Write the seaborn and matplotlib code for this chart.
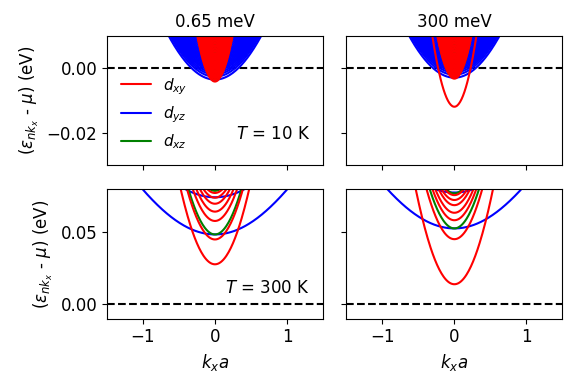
import numpy as np
import pandas as pd
import matplotlib.pyplot as plt
import seaborn as sns
from matplotlib.lines import Line2D

sns.set_style("ticks", {"text.color": "black", "axes.labelcolor": "black",
                        "xtick.color": "black", "ytick.color": "black",
                        "axes.edgecolor": "black"})
plt.rcParams["font.size"] = 12

# hopping (eV): light along x for dxy/dxz, heavy for dyz
t_light = 0.236
t_heavy = 0.034

# subband minima (eV)
tl_xy = [-0.0042, -0.0036, -0.0031, -0.0027, -0.0023, -0.0019, -0.0015, -0.0011,
         -0.0007, -0.0003, 0.0001, 0.0005, 0.0009, 0.0013, 0.0017, 0.0021, 0.0025,
         0.0029, 0.0033, 0.0037, 0.0041, 0.0045, 0.0050, 0.0055, 0.0060, 0.0065,
         0.0070, 0.0075, 0.0080, 0.0085, 0.0090, 0.0095]
tl_yz = [-0.0036, -0.0027, -0.0020, -0.0014, -0.0008, -0.0003, 0.0002, 0.0007,
         0.0012, 0.0017, 0.0022, 0.0027, 0.0032, 0.0037, 0.0042, 0.0047, 0.0053,
         0.0059, 0.0065, 0.0071, 0.0077, 0.0083, 0.0089, 0.0095]
tl_xz = tl_yz

tr_xy = [-0.0120, -0.0033, -0.0028, -0.0024, -0.0020, -0.0016, -0.0012, -0.0008,
         -0.0004, 0.0000, 0.0004, 0.0008, 0.0012, 0.0016, 0.0020, 0.0024, 0.0028,
         0.0032, 0.0036, 0.0040, 0.0045, 0.0050, 0.0055, 0.0060, 0.0065, 0.0070,
         0.0075, 0.0080, 0.0085, 0.0090, 0.0095]
tr_yz = [-0.0030, -0.0021, -0.0014, -0.0008, -0.0003, 0.0002, 0.0007, 0.0012,
         0.0017, 0.0022, 0.0027, 0.0032, 0.0037, 0.0042, 0.0047, 0.0053, 0.0059,
         0.0065, 0.0071, 0.0077, 0.0083, 0.0089, 0.0095]
tr_xz = tr_yz

bl_xy = [0.0278, 0.0451, 0.0580, 0.0645, 0.0700, 0.0742, 0.0775]
bl_yz = [0.0486, 0.0745]
bl_xz = [0.0486, 0.0790]

br_xy = [0.0139, 0.0453, 0.0585, 0.0637, 0.0690, 0.0726, 0.0760]
br_yz = [0.0528, 0.0778]
br_xz = [0.0528, 0.0772]

titles = ["0.65 meV", "300 meV"]
temps = ["$T$ = 10 K", "$T$ = 300 K"]

k = np.linspace(-1.5, 1.5, 301)
labels = {"xy": "$d_{xy}$", "yz": "$d_{yz}$", "xz": "$d_{xz}$"}
colors = {labels["xy"]: "red", labels["yz"]: "blue", labels["xz"]: "green"}


def band_frame(xy, yz, xz):
    parts = []
    for orb, mins, t in [("yz", yz, t_heavy), ("xz", xz, t_light), ("xy", xy, t_light)]:
        for n, e0 in enumerate(mins):
            parts.append(pd.DataFrame({"k": k, "E": e0 + 2 * t * (1 - np.cos(k)),
                                       "orbital": labels[orb], "band": orb + str(n)}))
    return pd.concat(parts, ignore_index=True)


panels = [[(tl_xy, tl_yz, tl_xz), (tr_xy, tr_yz, tr_xz)],
          [(bl_xy, bl_yz, bl_xz), (br_xy, br_yz, br_xz)]]

fig, axes = plt.subplots(2, 2, figsize=(5.81, 3.88), dpi=100, sharex=True, sharey="row")
fig.subplots_adjust(left=0.184, right=0.968, top=0.908, bottom=0.179, hspace=0.19, wspace=0.108)

for i in range(2):
    for j in range(2):
        ax = axes[i, j]
        ax.axhline(0, color="black", ls="--", lw=1.5, zorder=1)
        df = band_frame(*panels[i][j])
        sns.lineplot(data=df, x="k", y="E", hue="orbital", units="band", estimator=None,
                     hue_order=[labels["yz"], labels["xz"], labels["xy"]],
                     palette=colors, lw=1.5, legend=False, sort=False, ax=ax)
        ax.set_xlim(-1.5, 1.5)
        ax.set_xticks([-1, 0, 1])
        ax.set_xlabel("$k_xa$" if i == 1 else "")
        ax.set_ylabel(r"$(\epsilon_{nk_x}$ - $\mu)$ (eV)" if j == 0 else "")
        ax.tick_params(labelsize=12)
    axes[i, 0].text(0.94, 0.24, temps[i], transform=axes[i, 0].transAxes,
                    ha="right", va="center", fontsize=12)

axes[0, 0].set_ylim(-0.03, 0.01)
axes[0, 0].set_yticks([-0.02, 0.00])
axes[1, 0].set_ylim(-0.01, 0.08)
axes[1, 0].set_yticks([0.00, 0.05])
for j in range(2):
    axes[0, j].set_title(titles[j], fontsize=12)

handles = [Line2D([], [], color=colors[labels[o]], lw=1.5, label=labels[o]) for o in ["xy", "yz", "xz"]]
axes[0, 0].legend(handles=handles, loc="lower left", frameon=False, fontsize=11)

fig.savefig("out.png", dpi=100)
